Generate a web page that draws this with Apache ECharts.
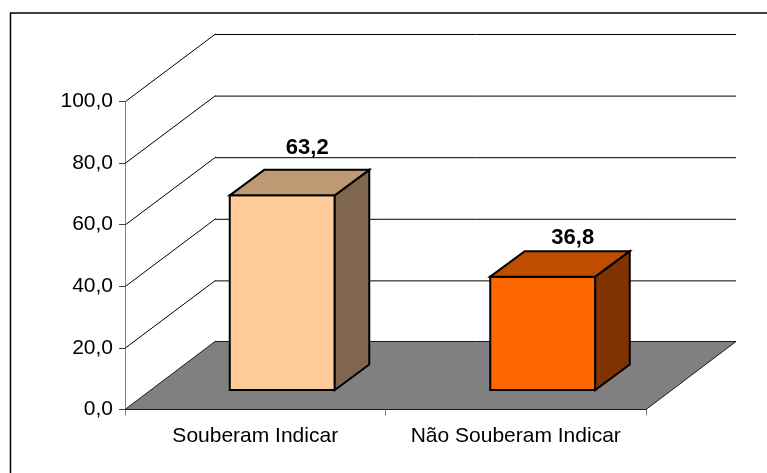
<!DOCTYPE html>
<html><head><meta charset="utf-8">
<style>html,body{margin:0;padding:0;background:#fff}#c{width:767px;height:473px}</style>
<script src="https://cdn.jsdelivr.net/npm/echarts@6/dist/echarts.min.js"></script>
</head><body><div id="c"></div>
<script>
const categories = ['Souberam Indicar', 'Não Souberam Indicar'];
const values = [63.2, 36.8];
const valueLabels = ['63,2', '36,8'];
const faceColors = ['#FFCC99', '#FF6600'];
const topColors = ['#BF9973', '#BF4D00'];
const sideColors = ['#806650', '#803300'];
const ticks = [0, 20, 40, 60, 80, 100];

const DX = 90, DY = -68;        // depth of the floor
const BDX = 27, BDY = -19.5;    // bar position within depth
const BW = 105, BD = 34.5, BH = -25.5; // bar size
const LABEL_DX = [25, 30], LABEL_RISE = [11, 2]; // label offset from the bar's back top
const chart = echarts.init(document.getElementById('c'), null, {renderer: 'canvas'});

function line(a, b, color, w) {
  return {type: 'line', shape: {x1: a[0], y1: a[1], x2: b[0], y2: b[1]},
    style: {stroke: color, lineWidth: w}, silent: true};
}
function poly(pts, fill, stroke, w) {
  return {type: 'polygon', shape: {points: pts},
    style: {fill: fill, stroke: stroke, lineWidth: w, lineJoin: 'miter'}};
}

chart.setOption({
  animation: false,
  backgroundColor: '#fff',
  graphic: [{type: 'polyline', shape: {points: [[10.5, 473], [10.5, 13], [767, 13]]},
    style: {stroke: '#000', lineWidth: 1.5, fill: null}, silent: true}],
  grid: {left: 125, top: 101.5, width: 521, height: 308, containLabel: false},
  xAxis: {
    type: 'category', data: categories, boundaryGap: true,
    axisLine: {show: true, lineStyle: {color: '#404040', width: 1}},
    axisTick: {show: true, interval: 0, alignWithLabel: false, length: 6, lineStyle: {color: '#808080'}},
    axisLabel: {color: '#000', fontFamily: 'Liberation Sans', fontSize: 21, margin: 16, interval: 0},
    splitLine: {show: false}
  },
  yAxis: {
    type: 'value', min: 0, max: 100, interval: 20,
    axisLine: {show: true, lineStyle: {color: '#808080', width: 1}},
    axisTick: {show: true, length: 6, lineStyle: {color: '#404040'}},
    axisLabel: {color: '#000', fontFamily: 'Liberation Sans', fontSize: 21, margin: 12,
      formatter: v => v.toFixed(1).replace('.', ',')},
    splitLine: {show: false}
  },
  series: [
    { // walls and floor
      type: 'custom', coordinateSystem: 'cartesian2d', silent: true, z: 1,
      data: ticks.map(t => [0, t]),
      renderItem(params, api) {
        const t = api.value(1);
        const p0 = api.coord([0, t]);
        const left = params.coordSys.x, right = left + params.coordSys.width;
        const y = p0[1];
        const kids = [];
        if (t === 0) {
          kids.push(poly([[left, y], [right, y], [right + DX, y + DY], [left + DX, y + DY]], '#808080', '#1a1a1a', 1));
        } else {
          kids.push(line([left + 0.5, y], [left + DX + 0.5, y + DY + 0.5], '#000', 1));
          kids.push(line([left + DX, y + DY + 1], [right + DX, y + DY + 1], '#000', 1));
        }
        return {type: 'group', children: kids};
      }
    },
    { // 3-D bars
      type: 'custom', coordinateSystem: 'cartesian2d', z: 3,
      data: values.map((v, i) => [i, v]),
      encode: {x: 0, y: 1},
      renderItem(params, api) {
        const i = api.value(0), v = api.value(1);
        const base = api.coord([i, 0]), top = api.coord([i, v]);
        const x0 = base[0] + BDX - BW / 2, x1 = x0 + BW;
        const yb = base[1] + BDY, yt = top[1] + BDY;
        return {type: 'group', children: [
          poly([[x0, yt], [x1, yt], [x1, yb], [x0, yb]], faceColors[i], '#000', 2),
          poly([[x1, yt], [x1 + BD, yt + BH], [x1 + BD, yb + BH], [x1, yb]], sideColors[i], '#000', 2),
          poly([[x0, yt], [x0 + BD, yt + BH], [x1 + BD, yt + BH], [x1, yt]], topColors[i], '#000', 2),
          {type: 'text', style: {text: valueLabels[i], x: x0 + BW / 2 + LABEL_DX[i], y: yt + BH - LABEL_RISE[i],
            align: 'center', verticalAlign: 'bottom', fill: '#000',
            font: 'bold 22px "Liberation Sans"'}}
        ]};
      }
    }
  ]
});
</script></body></html>
